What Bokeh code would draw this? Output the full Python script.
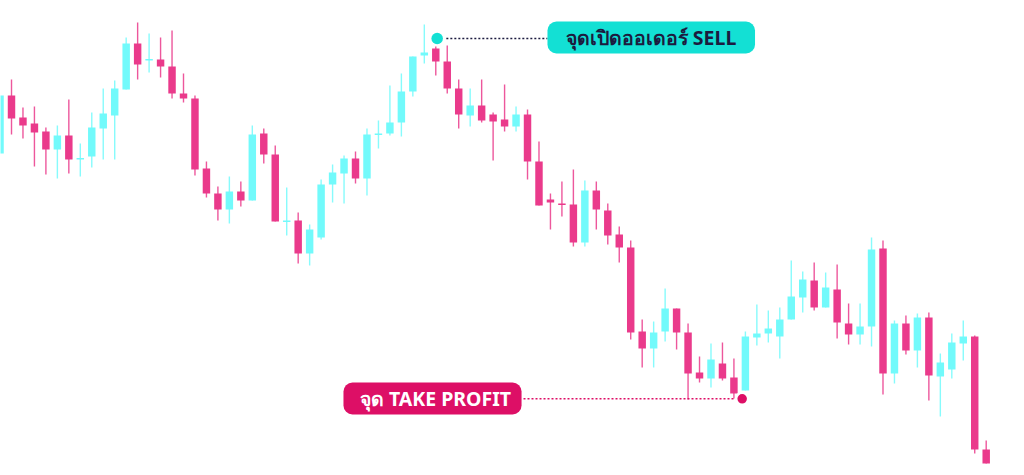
from bokeh.plotting import figure
from bokeh.models import Range1d, BoxAnnotation, Label, ColumnDataSource
from bokeh.embed import file_html
from bokeh.resources import INLINE

# Candle OHLC series (arbitrary price units)
opens = [322, 380, 358, 352, 344, 326, 340, 316, 319, 347, 360, 386, 432, 415, 416, 409, 382, 377, 307, 282,
         266, 284, 275, 342, 321, 253.5, 255, 222, 238, 291, 302, 317, 297, 340.5, 342, 353, 384, 420, 427, 414,
         387, 360, 370, 361, 356, 349, 361, 314, 276, 272, 271, 233, 285, 265, 241, 228, 144, 127, 144, 167,
         143, 103, 97, 112, 98, 85, 138, 142, 139, 156, 178, 195, 168, 186, 152, 141, 149, 227, 102, 152,
         125, 158, 99, 106, 132, 139, 26]
highs = [380, 396, 368, 369, 348, 350, 376, 332, 363, 387, 395, 438, 453, 442, 438, 445, 402, 380, 314, 289,
         299, 294, 350, 347, 330, 288, 263, 251, 296, 311, 320, 324, 347, 355, 390, 402, 419, 451, 429, 430,
         396, 387, 396, 363, 391, 369, 366, 334, 282, 294, 306, 295, 294, 272, 249, 235, 156, 154, 187, 167,
         152, 119, 132, 133, 117, 144, 171, 165, 168, 215, 204, 213, 203, 211, 172, 172, 238, 235, 155, 160,
         162, 163, 122, 142, 155, 140, 35]
lows = [322, 341, 337, 309, 301, 297, 302, 299, 308, 316, 316, 386, 396, 403, 398, 377, 373, 300, 278, 255,
        252, 269, 275, 312, 254, 240, 212, 210, 236, 273, 272, 292, 280, 327, 340, 339, 379, 412, 400, 382,
        347, 349, 353, 315, 344, 344, 296, 270, 246, 259, 229, 229, 246, 231, 213, 136, 108, 108, 134, 126,
        76, 93, 88, 95, 77, 85, 130, 133, 117, 156, 163, 165, 168, 137, 131, 131, 129, 81, 92, 121,
        108, 75, 59, 97, 115, 22, 12]
closes = [380, 357, 350, 343, 326, 340, 316, 317.5, 348, 362, 387, 432, 411, 416.5, 409, 382, 377, 306, 282, 266,
          284, 275, 341, 321, 254, 255, 222, 246, 291, 303, 317, 297, 341, 342, 353, 384, 419, 423, 414, 387,
          361, 370, 355, 354, 349, 361, 314, 270, 273, 270.5, 233, 285, 266, 240, 228, 143, 127, 143, 167, 143,
          102, 97, 116, 97, 82, 139, 142, 147, 156, 179, 196, 168, 188, 153, 141, 149, 226, 102, 152, 125,
          158, 100, 113, 133, 139, 26, 12]

# Trade annotations
sell_idx, sell_price = 38.12, 437
tp_idx, tp_price = 64.72, 76.7
sell_text = "จุดเปิดออเดอร์ SELL"
tp_text = "จุด TAKE PROFIT"

UP = "#72fafb"
DOWN = "#ea3a8b"
TEAL = "#13e0d4"
MAGENTA = "#dd0f66"
NAVY = "#1c1b3f"

idx = list(range(len(opens)))
colors = [UP if c >= o else DOWN for o, c in zip(opens, closes)]
src = ColumnDataSource(dict(
    x=idx, high=highs, low=lows,
    top=[max(o, c) for o, c in zip(opens, closes)],
    bottom=[min(o, c) for o, c in zip(opens, closes)],
    color=colors,
))

p = figure(width=1024, height=475, output_backend="svg", toolbar_location=None,
           x_range=Range1d(0.0407, 89.34), y_range=Range1d(0, 475),
           x_axis_type=None, y_axis_type=None, min_border=0)
p.grid.visible = False
p.outline_line_color = None
p.background_fill_color = "white"
p.border_fill_color = "white"

p.segment(x0="x", y0="low", x1="x", y1="high", color="color", line_width=1.4, line_alpha=0.85, source=src)
p.vbar(x="x", top="top", bottom="bottom", width=0.65, fill_color="color", line_color=None, source=src)

# sell entry marker, leader and tag
p.segment(x0=[sell_idx + 0.8], y0=[sell_price], x1=[47.74], y1=[sell_price],
          line_color=NAVY, line_width=1.6, line_dash="2 2")
p.scatter([sell_idx], [sell_price], size=11.5, fill_color=TEAL, line_color=None)
p.add_layout(BoxAnnotation(left=47.74, right=65.84, top=454, bottom=422,
                           fill_color=TEAL, fill_alpha=1, line_color=None, border_radius=9))
p.add_layout(Label(x=56.77, y=438, text=sell_text, text_align="center", text_baseline="middle",
                   text_font="Noto Sans", text_font_size="19.5px", text_font_style="bold", text_color=NAVY))

# take-profit marker, leader and tag
p.segment(x0=[45.65], y0=[tp_price], x1=[tp_idx - 0.5], y1=[tp_price],
          line_color=MAGENTA, line_width=1.6, line_dash="2 2")
p.add_layout(BoxAnnotation(left=29.95, right=45.48, top=93, bottom=61,
                           fill_color=MAGENTA, fill_alpha=1, line_color=None, border_radius=9))
p.add_layout(Label(x=37.97, y=77, text=tp_text, text_align="center", text_baseline="middle",
                   text_font="Noto Sans", text_font_size="19.5px", text_font_style="bold", text_color="white"))
p.scatter([tp_idx], [tp_price], size=12, fill_color=MAGENTA, line_color="white", line_width=2.5)

open("out.html", "w").write(file_html(p, INLINE))
